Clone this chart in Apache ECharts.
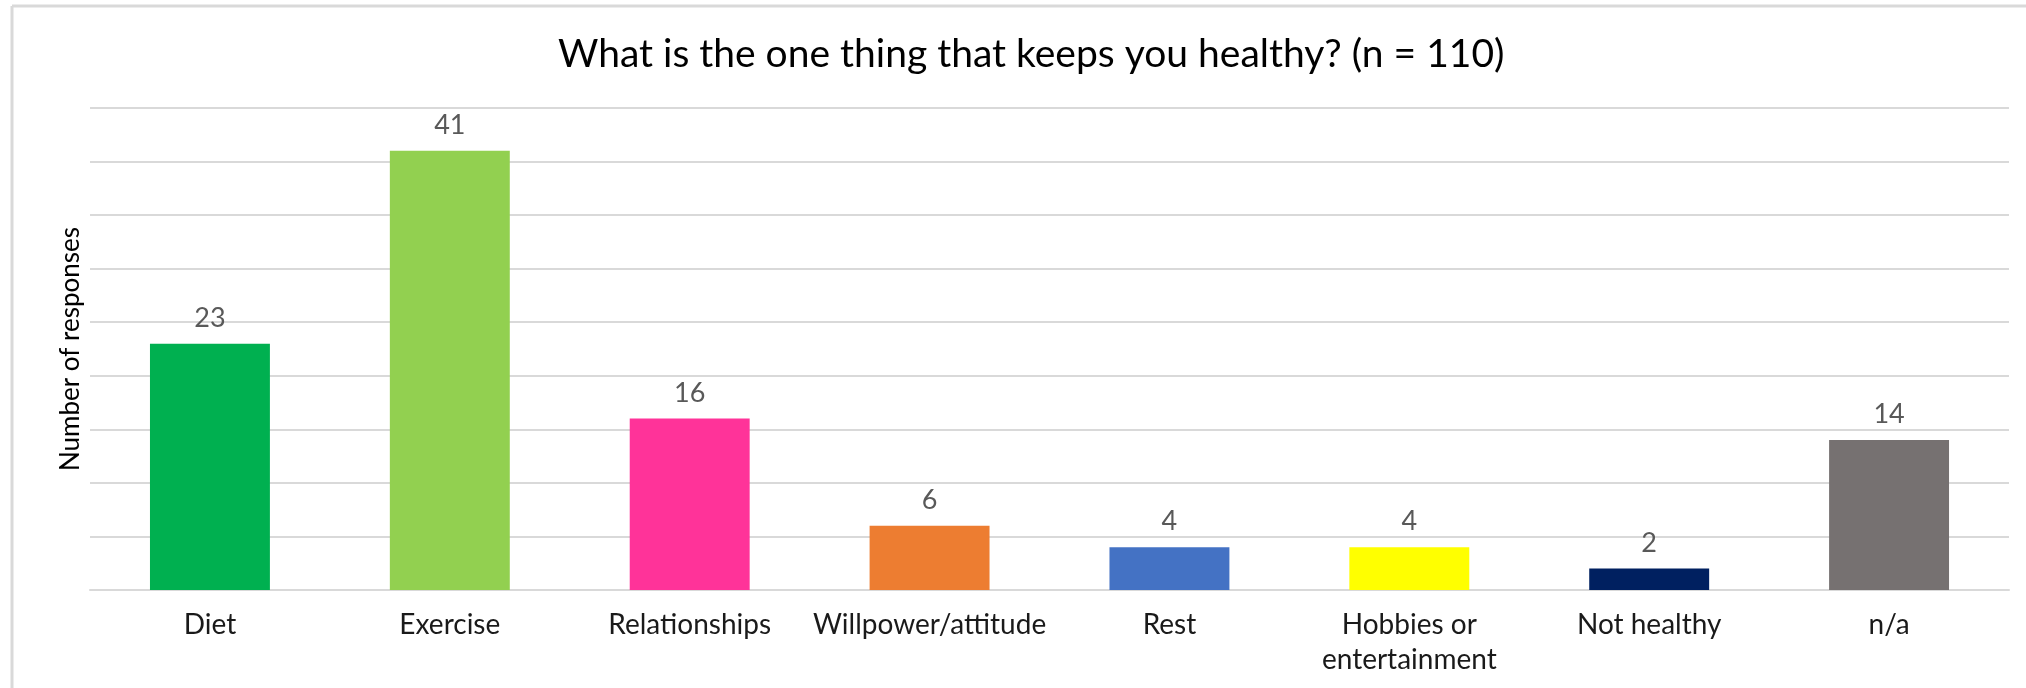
<!DOCTYPE html>
<html>
<head>
<meta charset="utf-8">
<script src="https://cdn.jsdelivr.net/npm/echarts@6/dist/echarts.min.js"></script>
<style>
  html, body { margin: 0; padding: 0; background: #fff; }
  #chart { width: 2026px; height: 688px; }
</style>
</head>
<body>
<div id="chart"></div>
<script>
// Survey answers: what keeps respondents healthy
const categories = ['Diet', 'Exercise', 'Relationships', 'Willpower/attitude', 'Rest', 'Hobbies or\nentertainment', 'Not healthy', 'n/a'];
const responses = [23, 41, 16, 6, 4, 4, 2, 14];
const barColors = ['#00B050', '#92D050', '#FF3399', '#ED7D31', '#4472C4', '#FFFF00', '#002060', '#767171'];

const FONT = 'Lato, "Open Sans", sans-serif';

const chart = echarts.init(document.getElementById('chart'), null, { renderer: 'canvas' });

chart.setOption({
  backgroundColor: '#ffffff',
  animation: false,
  title: {
    text: 'What is the one thing that keeps you healthy? (n = 110)',
    left: 553,
    top: 30,
    textStyle: { fontFamily: FONT, fontSize: 39, fontWeight: 'normal', color: '#000000' }
  },
  graphic: [
    // thin frame along the top and left edges
    { type: 'line', shape: { x1: 12, y1: 6, x2: 2026, y2: 6 }, style: { stroke: '#d9d9d9', lineWidth: 3 } },
    { type: 'line', shape: { x1: 12, y1: 6, x2: 12, y2: 688 }, style: { stroke: '#d9d9d9', lineWidth: 3 } }
  ],
  grid: { left: 90, right: 17, top: 108, bottom: 98 },
  xAxis: {
    type: 'category',
    data: categories,
    axisLine: { show: true, lineStyle: { color: '#d9d9d9', width: 2 } },
    axisTick: { show: false },
    axisLabel: {
      interval: 0,
      margin: 17,
      fontFamily: FONT,
      fontSize: 28,
      color: '#1a1a1a',
      lineHeight: 35
    }
  },
  yAxis: {
    type: 'value',
    min: 0,
    max: 45,
    interval: 5,
    name: 'Number of responses',
    nameLocation: 'middle',
    nameGap: 6,
    nameTextStyle: { fontFamily: FONT, fontSize: 26, color: '#000000' },
    axisLabel: { show: false },
    axisLine: { show: false },
    axisTick: { show: false },
    splitLine: { lineStyle: { color: '#d9d9d9', width: 2 } }
  },
  series: [{
    type: 'bar',
    data: responses.map((v, i) => ({ value: v, itemStyle: { color: barColors[i] } })),
    barWidth: '50%',
    label: {
      show: true,
      position: 'top',
      distance: 12,
      fontFamily: FONT,
      fontSize: 27,
      color: '#595959'
    }
  }]
});
</script>
</body>
</html>
